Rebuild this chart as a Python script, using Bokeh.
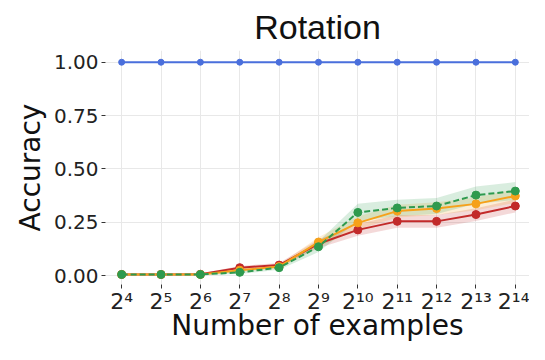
from bokeh.plotting import figure
from bokeh.models import ColumnDataSource, FixedTicker, Range1d
from bokeh.embed import file_html
from bokeh.resources import INLINE

exponents = [4, 5, 6, 7, 8, 9, 10, 11, 12, 13, 14]
tick_labels = ["2⁴", "2⁵", "2⁶", "2⁷", "2⁸", "2⁹", "2¹⁰", "2¹¹", "2¹²", "2¹³", "2¹⁴"]

blue = [1.0] * 11
red = [0.005, 0.005, 0.006, 0.037, 0.049, 0.149, 0.214, 0.254, 0.254, 0.286, 0.326]
orange = [0.005, 0.005, 0.005, 0.025, 0.042, 0.157, 0.247, 0.302, 0.314, 0.336, 0.373]
green = [0.005, 0.005, 0.005, 0.015, 0.037, 0.135, 0.296, 0.317, 0.326, 0.377, 0.396]

red_err = [0.003, 0.003, 0.004, 0.008, 0.010, 0.020, 0.028, 0.030, 0.030, 0.030, 0.030]
orange_err = [0.003, 0.003, 0.004, 0.008, 0.010, 0.022, 0.030, 0.030, 0.030, 0.030, 0.032]
green_err = [0.003, 0.003, 0.004, 0.008, 0.010, 0.025, 0.040, 0.038, 0.038, 0.040, 0.042]

C_BLUE = "#4a6fdc"
C_RED = "#c22a2a"
C_ORANGE = "#f6a11a"
C_GREEN = "#2e9a4e"

p = figure(width=529, height=344, output_backend="svg", toolbar_location=None,
           x_range=Range1d(3.59, 14.36), y_range=Range1d(-0.042, 1.055),
           min_border_left=105, min_border_right=0, min_border_top=50,
           min_border_bottom=57, title="Rotation")
p.outline_line_color = None
p.background_fill_color = "white"

p.title.text_font = "Liberation Sans"
p.title.text_font_size = "34px"
p.title.text_font_style = "normal"
p.title.align = "center"
p.title.text_color = "#111111"

for name, vals, err, col in [("red", red, red_err, C_RED),
                             ("orange", orange, orange_err, C_ORANGE),
                             ("green", green, green_err, C_GREEN)]:
    lo = [v - e for v, e in zip(vals, err)]
    hi = [v + e for v, e in zip(vals, err)]
    p.varea(x=exponents, y1=lo, y2=hi, fill_color=col, fill_alpha=0.18)

p.line(exponents, blue, line_color=C_BLUE, line_width=2)
p.scatter(exponents, blue, size=6, fill_color=C_BLUE, line_color=C_BLUE)

p.line(exponents, red, line_color=C_RED, line_width=2)
p.scatter(exponents, red, size=8, fill_color=C_RED, line_color=C_RED)
p.line(exponents, orange, line_color=C_ORANGE, line_width=2)
p.scatter(exponents, orange, size=8, fill_color=C_ORANGE, line_color=C_ORANGE)
p.line(exponents, green, line_color=C_GREEN, line_width=2, line_dash="6 3")
p.scatter(exponents, green, size=8, fill_color=C_GREEN, line_color=C_GREEN)

p.xaxis.ticker = FixedTicker(ticks=exponents)
p.xaxis.major_label_overrides = {e: t for e, t in zip(exponents, tick_labels)}
p.yaxis.ticker = FixedTicker(ticks=[0.0, 0.25, 0.5, 0.75, 1.0])
p.yaxis.major_label_overrides = {0.0: "0.00", 0.25: "0.25", 0.5: "0.50", 0.75: "0.75", 1.0: "1.00"}

for ax in (p.xaxis[0], p.yaxis[0]):
    ax.axis_line_color = None
    ax.minor_tick_line_color = None
    ax.major_tick_in = 0
    ax.major_tick_out = 4
    ax.major_tick_line_color = "#333333"
    ax.major_label_text_font = "DejaVu Sans"
    ax.major_label_text_color = "#222222"
    ax.axis_label_text_font = "DejaVu Sans"
    ax.axis_label_text_font_style = "normal"
    ax.axis_label_text_font_size = "28px"
    ax.axis_label_text_color = "#111111"

p.xaxis.axis_label = "Number of examples"
p.yaxis.axis_label = "Accuracy"
p.xaxis.major_label_text_font_size = "22px"
p.yaxis.major_label_text_font_size = "20px"
p.xaxis.major_label_standoff = 0
p.yaxis.major_label_standoff = 3
p.xaxis.axis_label_standoff = -8
p.yaxis.axis_label_standoff = 4

p.xgrid.grid_line_color = "#e8e8e8"
p.ygrid.grid_line_color = "#e8e8e8"

open("out.html", "w").write(file_html(p, INLINE))
